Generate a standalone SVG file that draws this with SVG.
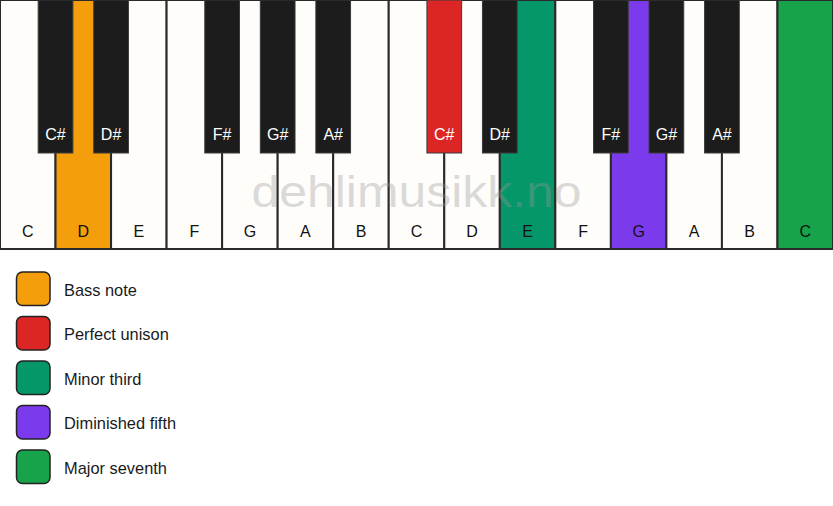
<svg xmlns="http://www.w3.org/2000/svg" width="833" height="506" viewBox="0 0 833 506">
<style>
.w{fill:#fefdfa;stroke:#2a2a2a;stroke-width:2}
.b{fill:#1c1c1c;stroke:#3a3a3a;stroke-width:1}
.wl{font-family:"Liberation Sans",Arial,sans-serif;font-size:16px;fill:#111;text-anchor:middle}
.bl{font-family:"Liberation Sans",Arial,sans-serif;font-size:16px;fill:#fff;text-anchor:middle}
.lg{stroke:#222;stroke-width:1.5}
.lt{font-family:"Liberation Sans",Arial,sans-serif;font-size:16.4px;fill:#1a1a1a}
.wm{font-family:"Liberation Sans",Arial,sans-serif;font-size:45px;fill:#999;opacity:0.35;text-anchor:middle}
</style>
<rect x="0" y="0" width="833" height="506" fill="#ffffff"/>
<g id="white-keys">
<g id="wk-C1"><rect class="w" x="0" y="0" width="55.53" height="249"/><text class="wl" x="27.77" y="236.5">C</text></g>
<g id="wk-D1"><rect class="w" x="55.53" y="0" width="55.53" height="249" style="fill:#f59e0b"/><text class="wl" x="83.3" y="236.5">D</text></g>
<g id="wk-E1"><rect class="w" x="111.07" y="0" width="55.53" height="249"/><text class="wl" x="138.83" y="236.5">E</text></g>
<g id="wk-F1"><rect class="w" x="166.6" y="0" width="55.53" height="249"/><text class="wl" x="194.37" y="236.5">F</text></g>
<g id="wk-G1"><rect class="w" x="222.13" y="0" width="55.53" height="249"/><text class="wl" x="249.9" y="236.5">G</text></g>
<g id="wk-A1"><rect class="w" x="277.67" y="0" width="55.53" height="249"/><text class="wl" x="305.43" y="236.5">A</text></g>
<g id="wk-B1"><rect class="w" x="333.2" y="0" width="55.53" height="249"/><text class="wl" x="360.97" y="236.5">B</text></g>
<g id="wk-C2"><rect class="w" x="388.73" y="0" width="55.53" height="249"/><text class="wl" x="416.5" y="236.5">C</text></g>
<g id="wk-D2"><rect class="w" x="444.27" y="0" width="55.53" height="249"/><text class="wl" x="472.03" y="236.5">D</text></g>
<g id="wk-E2"><rect class="w" x="499.8" y="0" width="55.53" height="249" style="fill:#059669"/><text class="wl" x="527.57" y="236.5">E</text></g>
<g id="wk-F2"><rect class="w" x="555.33" y="0" width="55.53" height="249"/><text class="wl" x="583.1" y="236.5">F</text></g>
<g id="wk-G2"><rect class="w" x="610.87" y="0" width="55.53" height="249" style="fill:#7c3aed"/><text class="wl" x="638.63" y="236.5">G</text></g>
<g id="wk-A2"><rect class="w" x="666.4" y="0" width="55.53" height="249"/><text class="wl" x="694.17" y="236.5">A</text></g>
<g id="wk-B2"><rect class="w" x="721.93" y="0" width="55.53" height="249"/><text class="wl" x="749.7" y="236.5">B</text></g>
<g id="wk-C3"><rect class="w" x="777.47" y="0" width="55.53" height="249" style="fill:#16a34a"/><text class="wl" x="805.23" y="236.5">C</text></g>
</g>
<text class="wm" x="416.5" y="206.5" textLength="330" lengthAdjust="spacingAndGlyphs">dehlimusikk.no</text>
<g id="black-keys">
<g id="bk-Cs1"><rect class="b" x="38.18" y="0" width="34.7" height="153"/><text class="bl" x="55.53" y="139.5">C#</text></g>
<g id="bk-Ds1"><rect class="b" x="93.72" y="0" width="34.7" height="153"/><text class="bl" x="111.07" y="139.5">D#</text></g>
<g id="bk-Fs1"><rect class="b" x="204.78" y="0" width="34.7" height="153"/><text class="bl" x="222.13" y="139.5">F#</text></g>
<g id="bk-Gs1"><rect class="b" x="260.32" y="0" width="34.7" height="153"/><text class="bl" x="277.67" y="139.5">G#</text></g>
<g id="bk-As1"><rect class="b" x="315.85" y="0" width="34.7" height="153"/><text class="bl" x="333.2" y="139.5">A#</text></g>
<g id="bk-Cs2"><rect class="b" x="426.92" y="0" width="34.7" height="153" style="fill:#dc2626"/><text class="bl" x="444.27" y="139.5">C#</text></g>
<g id="bk-Ds2"><rect class="b" x="482.45" y="0" width="34.7" height="153"/><text class="bl" x="499.8" y="139.5">D#</text></g>
<g id="bk-Fs2"><rect class="b" x="593.52" y="0" width="34.7" height="153"/><text class="bl" x="610.87" y="139.5">F#</text></g>
<g id="bk-Gs2"><rect class="b" x="649.05" y="0" width="34.7" height="153"/><text class="bl" x="666.4" y="139.5">G#</text></g>
<g id="bk-As2"><rect class="b" x="704.58" y="0" width="34.7" height="153"/><text class="bl" x="721.93" y="139.5">A#</text></g>
</g>
<g id="legend">
<g id="lg-bass"><rect class="lg" x="16.5" y="272" width="33.5" height="33.5" rx="6" fill="#f59e0b"/><text class="lt" x="64" y="295.5">Bass note</text></g>
<g id="lg-unison"><rect class="lg" x="16.5" y="316.5" width="33.5" height="33.5" rx="6" fill="#dc2626"/><text class="lt" x="64" y="340">Perfect unison</text></g>
<g id="lg-minor3"><rect class="lg" x="16.5" y="361" width="33.5" height="33.5" rx="6" fill="#059669"/><text class="lt" x="64" y="384.5">Minor third</text></g>
<g id="lg-dim5"><rect class="lg" x="16.5" y="405.5" width="33.5" height="33.5" rx="6" fill="#7c3aed"/><text class="lt" x="64" y="429">Diminished fifth</text></g>
<g id="lg-maj7"><rect class="lg" x="16.5" y="450" width="33.5" height="33.5" rx="6" fill="#16a34a"/><text class="lt" x="64" y="473.5">Major seventh</text></g>
</g>
</svg>
